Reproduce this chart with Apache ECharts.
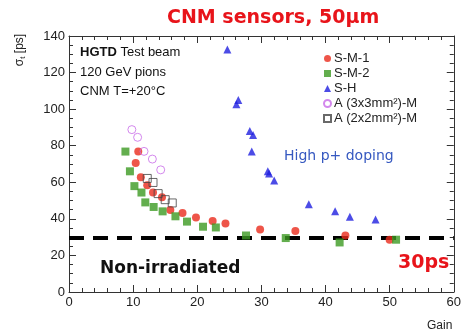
<!DOCTYPE html>
<html>
<head>
<meta charset="utf-8">
<script src="https://cdn.jsdelivr.net/npm/echarts@6/dist/echarts.min.js"></script>
<style>
  html, body { margin: 0; padding: 0; background: #fff; }
  #chart { width: 464px; height: 334px; }
</style>
</head>
<body>
<div id="chart"></div>
<script>
// gain / time resolution pairs
const smOne = [
  [10.4, 70.5], [10.8, 76.8], [11.2, 62.8], [12.2, 58.4], [13.1, 54.4], [14.5, 51.8],
  [15.8, 44.9], [17.7, 43.2], [19.8, 40.8], [22.4, 38.8], [24.4, 37.5],
  [29.8, 34.2], [35.3, 33.3], [43.1, 30.9], [50.0, 28.6]
];
const smTwo = [
  [8.8, 76.8], [9.5, 66.0], [10.2, 57.9], [11.3, 54.4], [11.9, 49.0], [13.2, 46.5],
  [14.6, 44.1], [16.6, 41.4], [18.4, 38.5], [20.9, 35.7], [22.9, 35.3],
  [27.6, 30.9], [33.8, 29.5], [42.2, 27.1], [51.0, 28.6]
];
const shPoints = [
  [24.7, 132.6], [26.4, 105.0], [26.1, 102.7], [28.2, 88.0], [28.7, 85.9], [28.5, 76.8],
  [31.0, 66.1], [31.2, 64.8], [32.0, 61.0], [37.4, 48.0], [41.5, 44.1], [43.8, 41.2], [47.8, 39.6]
];
const a3x3 = [[9.8, 88.8], [10.7, 84.6], [11.7, 76.9], [13.0, 72.7], [14.3, 66.8]];
const a2x2 = [[12.2, 62.1], [13.1, 59.9], [13.9, 53.8], [15.0, 50.5], [16.1, 48.7]];
const nonIrradiated = 29.5;
const seriesNames = ["S-M-1", "S-M-2", "S-H", "A (3x3mm²)-M", "A (2x2mm²)-M"];

const myChart = echarts.init(document.getElementById("chart"));
const font = "Liberation Sans, Arial, sans-serif";

const frameAxis = (extra) => Object.assign({
  type: "value",
  axisLine: { show: true, onZero: false, lineStyle: { color: "#333", width: 1 } },
  axisTick: { show: true, inside: true, length: 7, lineStyle: { color: "#333" } },
  splitLine: { show: false },
  axisLabel: { show: false },
}, extra);

myChart.setOption({
  animation: false,
  textStyle: { fontFamily: font },
  grid: { left: 69, right: 7, top: 36, bottom: 42 },
  xAxis: [
    frameAxis({
      min: 0, max: 60, interval: 10, position: "bottom",
      minorTick: { show: true, splitNumber: 5, length: 4, lineStyle: { color: "#333" } },
      axisLabel: { show: true, color: "#222", fontSize: 13, margin: 4 },
    }),
    frameAxis({
      min: 0, max: 60, interval: 10, position: "top",
      minorTick: { show: true, splitNumber: 5, length: 4, lineStyle: { color: "#333" } },
    }),
  ],
  yAxis: [
    frameAxis({
      min: 0, max: 140, interval: 20, position: "left",
      minorTick: { show: true, splitNumber: 4, length: 4, lineStyle: { color: "#333" } },
      axisLabel: { show: true, color: "#222", fontSize: 13, margin: 4 },
    }),
    frameAxis({
      min: 0, max: 140, interval: 20, position: "right",
      minorTick: { show: true, splitNumber: 4, length: 4, lineStyle: { color: "#333" } },
    }),
  ],
  legend: {
    orient: "vertical",
    left: 318,
    top: 47,
    itemWidth: 7,
    itemHeight: 7,
    itemGap: 2,
    textStyle: { fontSize: 13, color: "#222", lineHeight: 13, padding: [0, 0, 0, -2] },
    data: seriesNames,
  },
  series: [
    {
      name: seriesNames[0], type: "scatter", data: smOne, symbol: "circle", symbolSize: 8,
      itemStyle: { color: "#ea2a1c" }, z: 3,
    },
    {
      name: seriesNames[1], type: "scatter", data: smTwo, symbol: "rect", symbolSize: 8,
      itemStyle: { color: "#3c9a22" }, z: 3,
    },
    {
      name: seriesNames[2], type: "scatter", data: shPoints, symbol: "triangle", symbolSize: 8,
      itemStyle: { color: "#1f1fe0" }, z: 3,
    },
    {
      name: seriesNames[3], type: "scatter", data: a3x3, symbol: "circle", symbolSize: 8,
      itemStyle: { color: "rgba(0,0,0,0)", borderColor: "#c86ae8", borderWidth: 1 }, z: 3,
    },
    {
      name: seriesNames[4], type: "scatter", data: a2x2, symbol: "rect", symbolSize: 8,
      itemStyle: { color: "rgba(0,0,0,0)", borderColor: "#444", borderWidth: 1 }, z: 3,
    },
    {
      type: "line", data: [[0, nonIrradiated], [60, nonIrradiated]], symbol: "none",
      lineStyle: { color: "#000", width: 4, type: [15, 9] }, z: 2, silent: true,
    },
  ],
  graphic: [
    {
      type: "text", left: 167, top: 9,
      style: { text: "CNM sensors, 50µm", fill: "#e8141a", font: "bold 19px DejaVu Sans, sans-serif" },
    },
    {
      type: "text", x: 20, y: 50, rotation: Math.PI / 2,
      style: {
        text: "{s|σ}{t|t} [ps]", align: "center", verticalAlign: "middle",
        rich: {
          s: { fontSize: 12, fontFamily: font, fill: "#222" },
          t: { fontSize: 8, fontFamily: font, fill: "#222", verticalAlign: "bottom", padding: [6, 0, 0, 0] },
        },
        fontSize: 12, fontFamily: font, fill: "#222",
      },
    },
    {
      type: "text", left: 80, top: 46,
      style: { text: "{b|HGTD} Test beam", rich: { b: { fontWeight: "bold", fontSize: 13, fontFamily: font, fill: "#111" } }, fontSize: 13, fontFamily: font, fill: "#111" },
    },
    { type: "text", left: 80, top: 66, style: { text: "120 GeV pions", fontSize: 13, fontFamily: font, fill: "#111" } },
    { type: "text", left: 80, top: 85, style: { text: "CNM T=+20°C", fontSize: 13, fontFamily: font, fill: "#111" } },
    { type: "text", left: 284, top: 149, style: { text: "High p+ doping", fontSize: 14, fontFamily: "DejaVu Sans, sans-serif", fill: "#3558c0" } },
    { type: "text", left: 100, top: 260, style: { text: "Non-irradiated", font: "bold 17px DejaVu Sans, sans-serif", fill: "#111" } },
    { type: "text", left: 398, top: 254, style: { text: "30ps", font: "bold 19px DejaVu Sans, sans-serif", fill: "#e8141a" } },
    { type: "text", left: 427, top: 320, style: { text: "Gain", fontSize: 12, fontFamily: font, fill: "#222" } },
  ],
});
</script>
</body>
</html>
